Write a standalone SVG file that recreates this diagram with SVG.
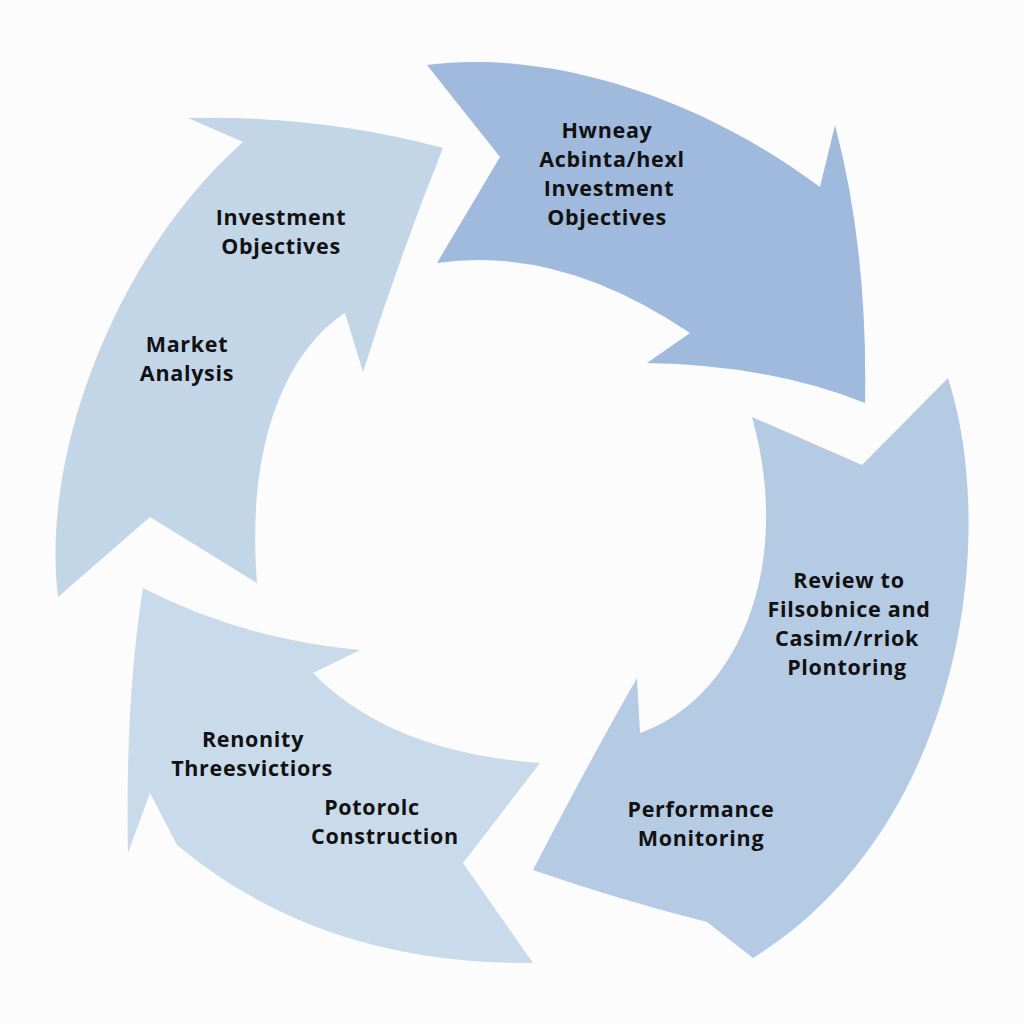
<svg xmlns="http://www.w3.org/2000/svg" width="1024" height="1024" viewBox="0 0 1024 1024">
<style>
.lbl{font-family:"Open Sans","Liberation Sans",sans-serif;font-weight:700;font-size:21.5px;letter-spacing:0.7px;fill:#111;text-anchor:middle}
.a{fill:#c3d6e8}.b{fill:#9fbadd}.c{fill:#b5cae3}.d{fill:#c9dbeb}
</style>
<rect width="1024" height="1024" fill="#fcfcfd"/>
<g id="connectors">
<g id="arrow-a"><path class="a" d="M58,597 C40,450 120,250 243,142 L188,118 Q320,115 443,148 Q400,255 363,372 L345,313 C295,345 245,430 257,583 L150,517 Z"/></g>
<g id="arrow-b"><path class="b" d="M427,65 L500,157 L437,263 Q560,245 690,333 L647,363 Q770,365 865,403 Q868,250 835,125 L820,187 C690,90 540,50 427,65 Z"/></g>
<g id="arrow-c"><path class="c" d="M752,417 L862,465 L948,378 C1000,540 960,830 753,958 L707,922 Q620,900 533,870 Q590,760 637,678 L640,733 C735,700 795,570 752,417 Z"/></g>
<g id="arrow-d"><path class="d" d="M143,588 Q245,640 360,650 L313,673 Q390,752 540,763 L463,863 L533,963 Q320,965 177,845 L150,793 L128,853 Q125,700 143,588 Z"/></g>
</g>
<g id="node-investment-objectives">
<text class="lbl" x="281" y="225">Investment</text>
<text class="lbl" x="281" y="254">Objectives</text>
</g>
<g id="node-market-analysis">
<text class="lbl" x="187" y="352">Market</text>
<text class="lbl" x="187" y="381">Analysis</text>
</g>
<g id="node-top-right">
<text class="lbl" x="607" y="138">Hwneay</text>
<text class="lbl" x="612" y="167">Acbinta/hexl</text>
<text class="lbl" x="609" y="196">Investment</text>
<text class="lbl" x="607" y="225">Objectives</text>
</g>
<g id="node-review">
<text class="lbl" x="849" y="588">Review to</text>
<text class="lbl" x="849" y="617">Filsobnice and</text>
<text class="lbl" x="847" y="646">Casim//rriok</text>
<text class="lbl" x="847" y="675">Plontoring</text>
</g>
<g id="node-performance">
<text class="lbl" x="701" y="817">Performance</text>
<text class="lbl" x="701" y="846">Monitoring</text>
</g>
<g id="node-renonity">
<text class="lbl" x="253" y="747">Renonity</text>
<text class="lbl" x="252" y="776">Threesvictiors</text>
</g>
<g id="node-construction">
<text class="lbl" x="372" y="815">Potorolc</text>
<text class="lbl" x="385" y="844">Construction</text>
</g>
</svg>
